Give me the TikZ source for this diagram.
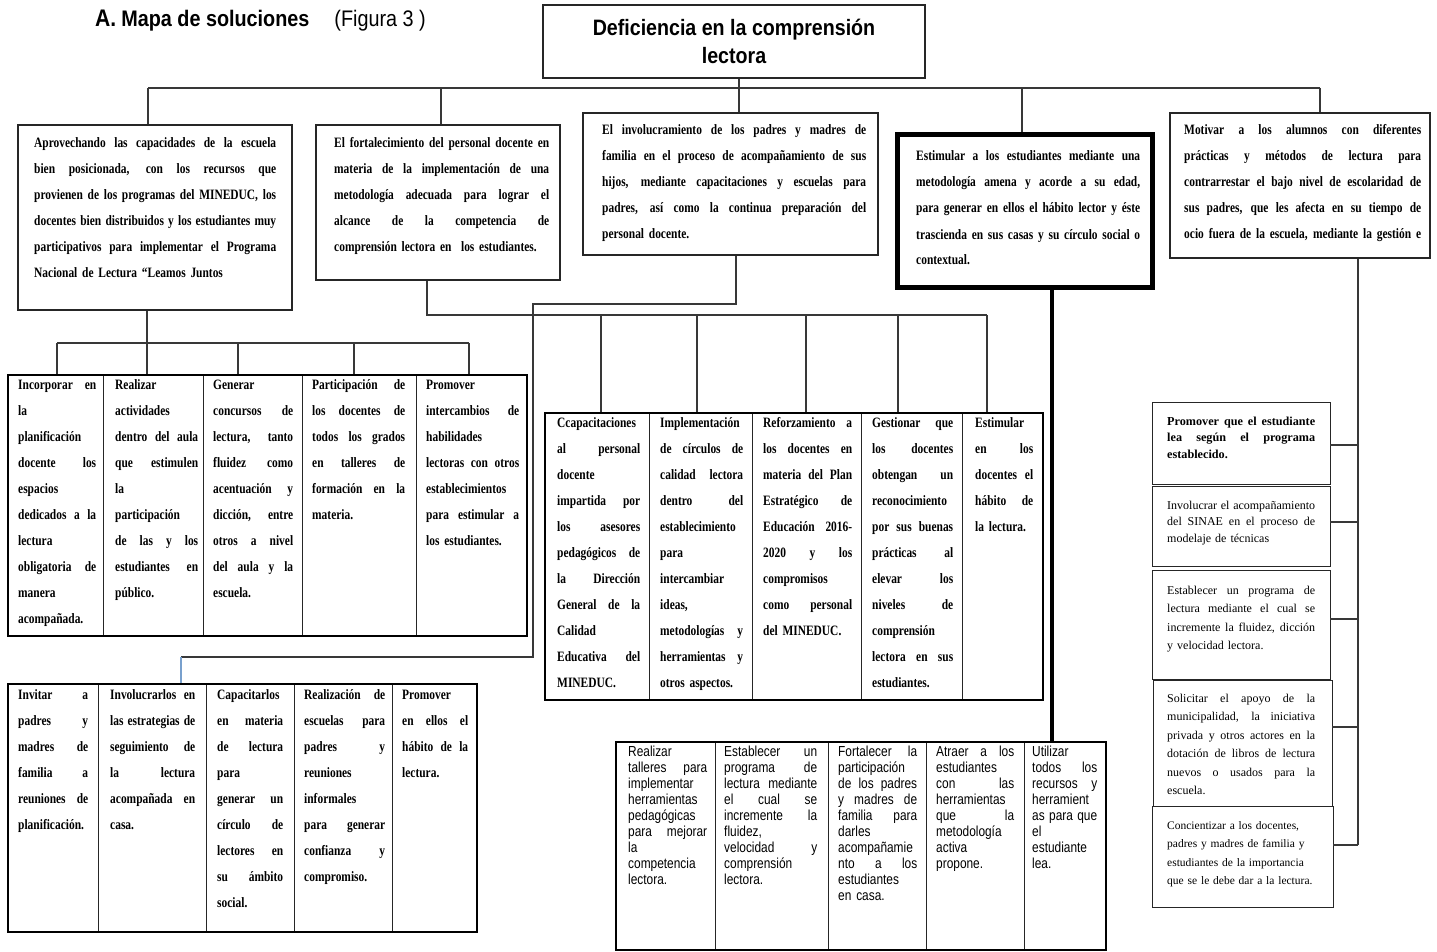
\documentclass[tikz,border=0pt]{standalone}
\usepackage{fontspec}
\setmainfont{Liberation Serif}
\newfontfamily\tsans[FakeStretch=0.88]{Liberation Sans}
\newfontfamily\csans[FakeStretch=0.82]{Liberation Sans}
\newfontfamily\tserif[FakeStretch=0.8]{Liberation Serif}
\usetikzlibrary{fit}
\newlength\jw
\newcommand\J[1]{\leavevmode\hbox to\jw{\spaceskip=\fontdimen2\font plus 1fil minus \fontdimen4\font\relax #1}}
\newcommand\bxn[6]{\node[#6, fit={(#2,#3) (#4,#5)}] (#1) {};}
\begin{document}
\begin{tikzpicture}[x=1pt,y=-1pt,
  ln/.style={draw=black!78, line width=1.1pt},
  blu/.style={draw={rgb,255:red,120;green,160;blue,205}, line width=1.1pt},
  bx/.style={draw=black!85, line width=1.2pt, inner sep=0pt},
  thk/.style={draw=black, line width=5pt, inner sep=0pt},
  cell/.style={draw=black!85, line width=0.9pt, inner sep=0pt},
  tbl/.style={draw=black, line width=2pt, inner sep=0pt},
  tw/.style={text width=#1, execute at begin node={\setlength\jw{#1}}},
  bt/.style={anchor=base west, inner sep=0pt, align=left, font=\tserif\bfseries\fontsize{14.3}{26}\selectfont},
  st/.style={anchor=base west, inner sep=0pt, align=left, font=\csans\fontsize{14.5}{16}\selectfont},
  rt/.style={anchor=base west, inner sep=0pt, align=left, font=\rmfamily\fontsize{12}{18.5}\selectfont},
]
\useasboundingbox (0,0) rectangle (1437,952);
\fill[white] (0,0) rectangle (1437,952);

% title
\node[anchor=base west, inner sep=0pt] (tit) at (95,27) {\tsans\bfseries\fontsize{24}{23}\selectfont A.\hspace{5pt}\fontsize{22.5}{23}\selectfont Mapa de soluciones\hspace{25pt}\mdseries(Figura 3 )};

% top box
\node[bx, minimum width=382pt, minimum height=73pt, align=center, font=\tsans\bfseries\fontsize{22.3}{28}\selectfont] (T) at (734,41.5) {Deficiencia en la comprensión\\lectora};

% level 1 boxes
\bxn{A1}{18}{125}{292}{310}{bx}
\bxn{A2}{316}{125}{560}{280}{bx}
\bxn{A3}{583}{113}{878}{255}{bx}
\bxn{A4}{897}{135}{1152}{287}{thk}
\bxn{A5}{1170}{113}{1430}{258}{bx}

\node[bt, tw=242pt] (A1t) at (34,148) {\J{Aprovechando las capacidades de la escuela}\\
\J{bien posicionada, con los recursos que}\\
\J{provienen de los programas del MINEDUC, los}\\
\J{docentes bien distribuidos y los estudiantes muy}\\
\J{participativos para implementar el Programa}\\
Nacional de Lectura “Leamos Juntos};
\node[bt, tw=215pt] (A2t) at (334,148) {\J{El fortalecimiento del personal docente en}\\
\J{materia de la implementación de una}\\
\J{metodología adecuada para lograr el}\\
\J{alcance de la competencia de}\\
comprensión lectora en \ los estudiantes.};
\node[bt, tw=264pt] (A3t) at (602,135) {\J{El involucramiento de los padres y madres de}\\
\J{familia en el proceso de acompañamiento de sus}\\
\J{hijos, mediante capacitaciones y escuelas para}\\
\J{padres, así como la continua preparación del}\\
personal docente.};
\node[bt, tw=224pt] (A4t) at (916,161) {\J{Estimular a los estudiantes mediante una}\\
\J{metodología amena y acorde a su edad,}\\
\J{para generar en ellos el hábito lector y éste}\\
\J{trascienda en sus casas y su círculo social o}\\
contextual.};
\node[bt, tw=237pt] (A5t) at (1184,135) {\J{Motivar a los alumnos con diferentes}\\
\J{prácticas y métodos de lectura para}\\
\J{contrarrestar el bajo nivel de escolaridad de}\\
\J{sus padres, que les afecta en su tiempo de}\\
\J{ocio fuera de la escuela, mediante la gestión e}};

% middle-left table
\bxn{M1}{8}{375}{103}{636}{cell}
\bxn{M2}{103}{375}{203}{636}{cell}
\bxn{M3}{203}{375}{302}{636}{cell}
\bxn{M4}{302}{375}{416}{636}{cell}
\bxn{M5}{416}{375}{527}{636}{cell}
\bxn{Mt}{8}{375}{527}{636}{tbl}
\node[bt, tw=78pt] (M1t) at (18,389) {\J{Incorporar en}\\la\\planificación\\\J{docente los}\\espacios\\\J{dedicados a la}\\lectura\\\J{obligatoria de}\\manera\\acompañada.};
\node[bt, tw=83pt] (M2t) at (115,389) {Realizar\\actividades\\\J{dentro del aula}\\\J{que estimulen}\\la\\participación\\\J{de las y los}\\\J{estudiantes en}\\público.};
\node[bt, tw=80pt] (M3t) at (213,389) {Generar\\\J{concursos de}\\\J{lectura, tanto}\\\J{fluidez como}\\\J{acentuación y}\\\J{dicción, entre}\\\J{otros a nivel}\\\J{del aula y la}\\escuela.};
\node[bt, tw=93pt] (M4t) at (312,389) {\J{Participación de}\\\J{los docentes de}\\\J{todos los grados}\\\J{en talleres de}\\\J{formación en la}\\materia.};
\node[bt, tw=93pt] (M5t) at (426,389) {Promover\\\J{intercambios de}\\habilidades\\\J{lectoras con otros}\\establecimientos\\\J{para estimular a}\\los estudiantes.};

% center table
\bxn{C1}{545}{413}{649}{700}{cell}
\bxn{C2}{649}{413}{752}{700}{cell}
\bxn{C3}{752}{413}{861}{700}{cell}
\bxn{C4}{861}{413}{962}{700}{cell}
\bxn{C5}{962}{413}{1043}{700}{cell}
\bxn{Ct}{545}{413}{1043}{700}{tbl}
\node[bt, tw=83pt] (C1t) at (557,427) {Ccapacitaciones\\\J{al personal}\\docente\\\J{impartida por}\\\J{los asesores}\\\J{pedagógicos de}\\\J{la Dirección}\\\J{General de la}\\Calidad\\\J{Educativa del}\\MINEDUC.};
\node[bt, tw=83pt] (C2t) at (660,427) {Implementación\\\J{de círculos de}\\\J{calidad lectora}\\\J{dentro del}\\establecimiento\\para\\intercambiar\\ideas,\\\J{metodologías y}\\\J{herramientas y}\\otros aspectos.};
\node[bt, tw=89pt] (C3t) at (763,427) {\J{Reforzamiento a}\\\J{los docentes en}\\\J{materia del Plan}\\\J{Estratégico de}\\\J{Educación 2016-}\\\J{2020 y los}\\compromisos\\\J{como personal}\\del MINEDUC.};
\node[bt, tw=81pt] (C4t) at (872,427) {\J{Gestionar que}\\\J{los docentes}\\\J{obtengan un}\\reconocimiento\\\J{por sus buenas}\\\J{prácticas al}\\\J{elevar los}\\\J{niveles de}\\comprensión\\\J{lectora en sus}\\estudiantes.};
\node[bt, tw=58pt] (C5t) at (975,427) {Estimular\\\J{en los}\\\J{docentes el}\\\J{hábito de}\\la lectura.};

% bottom-left table
\bxn{L1}{8}{684}{98}{932}{cell}
\bxn{L2}{98}{684}{206}{932}{cell}
\bxn{L3}{206}{684}{294}{932}{cell}
\bxn{L4}{294}{684}{392}{932}{cell}
\bxn{L5}{392}{684}{477}{932}{cell}
\bxn{Lt}{8}{684}{477}{932}{tbl}
\node[bt, tw=70pt] (L1t) at (18,699) {\J{Invitar a}\\\J{padres y}\\\J{madres de}\\\J{familia a}\\\J{reuniones de}\\planificación.};
\node[bt, tw=85pt] (L2t) at (110,699) {\J{Involucrarlos en}\\\J{las estrategias de}\\\J{seguimiento de}\\\J{la lectura}\\\J{acompañada en}\\casa.};
\node[bt, tw=66pt] (L3t) at (217,699) {Capacitarlos\\\J{en materia}\\\J{de lectura}\\para\\\J{generar un}\\\J{círculo de}\\\J{lectores en}\\\J{su ámbito}\\social.};
\node[bt, tw=81pt] (L4t) at (304,699) {\J{Realización de}\\\J{escuelas para}\\\J{padres y}\\reuniones\\informales\\\J{para generar}\\\J{confianza y}\\compromiso.};
\node[bt, tw=66pt] (L5t) at (402,699) {Promover\\\J{en ellos el}\\\J{hábito de la}\\lectura.};

% bottom-right table
\bxn{R1}{616}{742}{715}{950}{cell}
\bxn{R2}{715}{742}{828}{950}{cell}
\bxn{R3}{828}{742}{926}{950}{cell}
\bxn{R4}{926}{742}{1024}{950}{cell}
\bxn{R5}{1024}{742}{1106}{950}{cell}
\bxn{Rt}{616}{742}{1106}{950}{tbl}
\node[st, tw=79pt] (R1t) at (628,756) {Realizar\\\J{talleres para}\\implementar\\herramientas\\pedagógicas\\\J{para mejorar}\\la\\competencia\\lectora.};
\node[st, tw=93pt] (R2t) at (724,756) {\J{Establecer un}\\\J{programa de}\\\J{lectura mediante}\\\J{el cual se}\\\J{incremente la}\\fluidez,\\\J{velocidad y}\\comprensión\\lectora.};
\node[st, tw=79pt] (R3t) at (838,756) {\J{Fortalecer la}\\participación\\\J{de los padres}\\\J{y madres de}\\\J{familia para}\\darles\\acompañamie\\\J{nto a los}\\estudiantes\\en casa.};
\node[st, tw=78pt] (R4t) at (936,756) {\J{Atraer a los}\\estudiantes\\\J{con las}\\herramientas\\\J{que la}\\metodología\\activa\\propone.};
\node[st, tw=65pt] (R5t) at (1032,756) {Utilizar\\\J{todos los}\\\J{recursos y}\\herramient\\\J{as para que}\\el\\estudiante\\lea.};

% right column boxes
\bxn{S1}{1152}{402}{1330}{484}{cell}
\bxn{S2}{1152}{486}{1330}{566}{cell}
\bxn{S3}{1152}{570}{1330}{679}{cell}
\bxn{S4}{1153}{680}{1332}{806}{cell}
\bxn{S5}{1152}{806}{1333}{907}{cell}
\node[rt, tw=148pt, font=\rmfamily\bfseries\fontsize{12.2}{16.5}\selectfont] (S1t) at (1167,425) {\J{Promover que el estudiante}\\\J{lea según el programa}\\establecido.};
\node[rt, tw=148pt, font=\rmfamily\fontsize{12}{16.5}\selectfont] (S2t) at (1167,509) {\J{Involucrar el acompañamiento}\\\J{del SINAE en el proceso de}\\modelaje de técnicas};
\node[rt, tw=148pt] (S3t) at (1167,594) {\J{Establecer un programa de}\\\J{lectura mediante el cual se}\\\J{incremente la fluidez, dicción}\\y velocidad lectora.};
\node[rt, tw=148pt] (S4t) at (1167,702) {\J{Solicitar el apoyo de la}\\\J{municipalidad, la iniciativa}\\\J{privada y otros actores en la}\\\J{dotación de libros de lectura}\\\J{nuevos o usados para la}\\escuela.};
\node[rt, tw=160pt, font=\rmfamily\fontsize{11.5}{18.5}\selectfont] (S5t) at (1167,829) {Concientizar a los docentes,\\padres y madres de familia y\\estudiantes de la importancia\\que se le debe dar a la lectura.};

% ---- connectors
\coordinate (h1) at (148,88); \coordinate (h2) at (441,88); \coordinate (h3) at (739,88);
\coordinate (h4) at (1022,88); \coordinate (h5) at (1320,88);
\draw[ln] (h3 |- T.south) -- (h3);
\draw[ln] (h1) -- (h5);
\draw[ln] (h1) -- (h1 |- A1.north);
\draw[ln] (h2) -- (h2 |- A2.north);
\draw[ln] (h3) -- (h3 |- A3.north);
\draw[ln] (h4) -- (h4 |- A4.north);
\draw[ln] (h5) -- (h5 |- A5.north);

\coordinate (m1) at (57,343); \coordinate (m2) at (147,343); \coordinate (m3) at (238,343);
\coordinate (m4) at (354,343); \coordinate (m5) at (469,343);
\draw[ln] (m2 |- A1.south) -- (m2);
\draw[ln] (m1) -- (m5);
\foreach \i in {1,...,5} \draw[ln] (m\i) -- (m\i |- Mt.north);

\coordinate (c0) at (427,315); \coordinate (c1) at (601,315); \coordinate (c2) at (697,315);
\coordinate (c3) at (806,315); \coordinate (c4) at (898,315); \coordinate (c5) at (987,315);
\draw[ln] (c0 |- A2.south) -- (c0) -- (c5);
\foreach \i in {1,...,5} \draw[ln] (c\i) -- (c\i |- Ct.north);

\coordinate (d1) at (736,304); \coordinate (d2) at (533,304);
\coordinate (d3) at (533,657); \coordinate (d4) at (181,657);
\draw[ln] (d1 |- A3.south) -- (d1) -- (d2) -- (d3) -- (d4);
\draw[blu] (d4) -- (d4 |- Lt.north);

\coordinate (e1) at (1052,300);
\draw[line width=4.5pt] (e1 |- A4.south) -- (e1 |- Rt.north);

\coordinate (g1) at (1358,445); \coordinate (g2) at (1358,522); \coordinate (g3) at (1358,619);
\coordinate (g4) at (1358,727); \coordinate (g5) at (1358,845);
\draw[ln] (g1 |- A5.south) -- (g5);
\draw[ln] (g1) -- (g1 -| S1.east);
\draw[ln] (g2) -- (g2 -| S2.east);
\draw[ln] (g3) -- (g3 -| S3.east);
\draw[ln] (g4) -- (g4 -| S4.east);
\draw[ln] (g5) -- (g5 -| S5.east);
\end{tikzpicture}
\end{document}
